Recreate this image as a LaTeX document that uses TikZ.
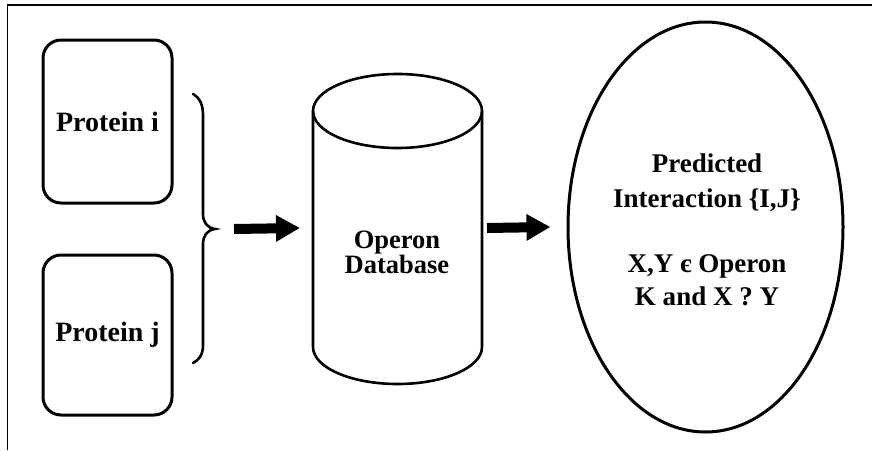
\documentclass[tikz,border=0pt]{standalone}
\usepackage{fontspec}
\setmainfont{Liberation Serif}
\usetikzlibrary{arrows.meta,shapes.geometric}

\tikzset{
  ink/.style={draw=black, line width=3pt},
  protbox/.style={ink, rectangle, rounded corners=18pt, minimum width=129pt,
    inner sep=0pt, font=\bfseries\fontsize{28}{28}\selectfont},
  lbl/.style={inner sep=0pt, anchor=base, font=\bfseries\fontsize{#1}{#1}\selectfont},
  blockarrow/.style={line width=10pt, -{Triangle[length=24pt,width=25pt]}},
}

\begin{document}
\begin{tikzpicture}[x=1pt, y=-1pt]
  \useasboundingbox (0,0) rectangle (872,450);

  % frame edges
  \draw[line width=2.5pt] (7,5) -- (872,5);
  \draw[line width=1pt] (7,5) -- (7,450);

  % input proteins
  \node[protbox, minimum height=163pt] (pi) at (107.5,121.5) {Protein i};
  \node[protbox, minimum height=160pt] (pj) at (107.5,335) {Protein j};

  % curly brace grouping both proteins
  \coordinate (tip) at (215,229);
  \draw[line width=2.6pt, line cap=round]
    (193,94) .. controls (200,98) and (203,105) .. (203,115)
    -- (203,214) .. controls (203,222) and (207,228) .. (tip)
    .. controls (207,230) and (203,236) .. (203,244)
    -- (203,345) .. controls (203,355) and (199,360) .. (193,363);

  % operon database cylinder
  \draw[line width=2.6pt]
    (313,111) -- (313,347) arc[start angle=180, end angle=360, x radius=84.5pt, y radius=37pt]
    -- (482,111);
  \draw[line width=2.6pt] (397.5,111) ellipse[x radius=84.5pt, y radius=37pt];
  \coordinate (dbw) at (313,228);
  \coordinate (dbe) at (482,228);
  % base anchor sits on the last line's baseline
  \node[inner sep=0pt, anchor=base, align=center,
        font=\bfseries\fontsize{26.5}{25}\selectfont] (db) at (397,273) {Operon\\Database};

  % prediction ellipse
  \node[ink, ellipse, minimum width=275pt, minimum height=410pt, inner sep=0pt] (pred) at (705.5,227) {};
  \node[lbl=27] (p1) at (707,172) {Predicted};
  \node[lbl=27] (p2) at (707,207) {Interaction \{I,J\}};
  \node[lbl=27] (p3) at (707,272) {X,Y є Operon};
  \node[lbl=27] (p4) at (707,305) {K and X ? Y};

  % flow arrows
  \draw[blockarrow] ([xshift=19pt]tip) -- ([xshift=-13pt]dbw);
  \draw[blockarrow] ([xshift=5pt]dbe) -- ([xshift=-16pt]pred.west);
\end{tikzpicture}
\end{document}
